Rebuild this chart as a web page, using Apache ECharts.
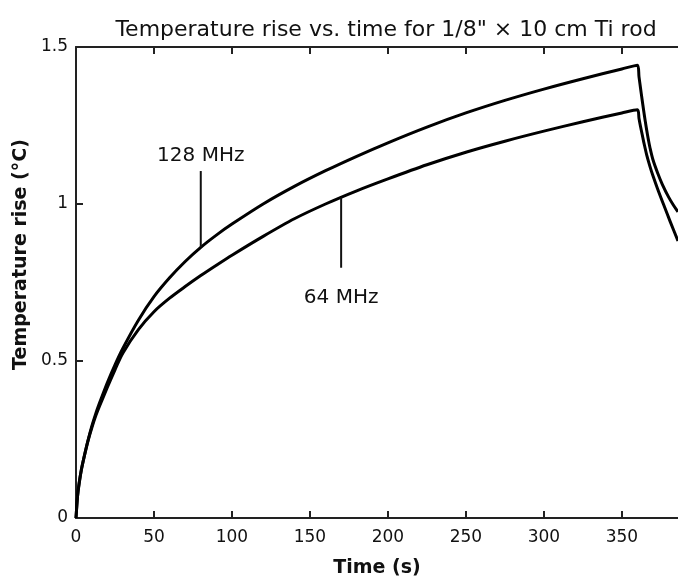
<!DOCTYPE html>
<html><head><meta charset="utf-8">
<script src="https://cdn.jsdelivr.net/npm/echarts@6/dist/echarts.min.js"></script>
<style>html,body{margin:0;padding:0;background:#fff}#c{width:678px;height:583px}</style>
</head><body><div id="c"></div>
<script>
const titleText = 'Temperature rise vs. time for 1/8" \u00d7 10 cm Ti rod';
const xAxisName = 'Time (s)';
const yAxisName = 'Temperature rise (\u00b0C)';

const time128 = [0, 1, 2, 3.5, 5, 7.5, 10, 12.5, 15, 20, 25, 30, 40, 50, 60, 70, 80, 90, 100, 120, 140, 160, 180, 200, 225, 250, 275, 300, 325, 350, 360, 361, 362, 363, 364, 365, 366, 367, 368, 370, 373, 376, 380, 383, 386];
const rise128 = [0, 0.07, 0.11, 0.155, 0.19, 0.243, 0.29, 0.33, 0.365, 0.43, 0.488, 0.54, 0.63, 0.705, 0.765, 0.817, 0.862, 0.901, 0.936, 1.0, 1.056, 1.106, 1.152, 1.195, 1.245, 1.29, 1.33, 1.366, 1.399, 1.43, 1.442, 1.405, 1.368, 1.332, 1.297, 1.264, 1.233, 1.205, 1.18, 1.14, 1.098, 1.062, 1.022, 0.997, 0.975];

const time64 = [0, 1, 2, 3.5, 5, 7.5, 10, 12.5, 15, 20, 25, 30, 40, 50, 60, 70, 80, 90, 100, 120, 140, 160, 180, 200, 225, 250, 275, 300, 325, 350, 360, 361, 362, 363, 364, 365, 366, 368, 370, 373, 377, 381, 386];
const rise64 = [0, 0.07, 0.11, 0.155, 0.19, 0.242, 0.285, 0.323, 0.355, 0.415, 0.472, 0.525, 0.6, 0.657, 0.7, 0.737, 0.772, 0.805, 0.837, 0.897, 0.953, 1.0, 1.042, 1.08, 1.125, 1.165, 1.2, 1.232, 1.262, 1.29, 1.3, 1.272, 1.246, 1.222, 1.198, 1.176, 1.155, 1.12, 1.089, 1.047, 0.995, 0.944, 0.882];

const xTicks = [0, 50, 100, 150, 200, 250, 300, 350];
const yTicks = [0, 0.5, 1, 1.5];

const annotationNames = ['128 MHz', '64 MHz'];
const annotationTime = [80, 170];
const annotationLineFrom = [0.862, 1.021];
const annotationLineTo = [1.105, 0.797];
const annotationLabelRise = [1.155, 0.702];

const FONT = 'DejaVu Sans';
const zip = (a, b) => a.map((v, i) => [v, b[i]]);

const axisLineStyle = { color: '#222', width: 2 };
const tickStyle = { color: '#222', width: 2 };
const baseX = {
  type: 'value', min: 0, max: 386, interval: 50,
  splitLine: { show: false },
  axisLine: { show: true, onZero: false, lineStyle: axisLineStyle },
  axisTick: { show: true, inside: true, length: 7, customValues: xTicks, lineStyle: tickStyle }
};
const baseY = {
  type: 'value', min: 0, max: 1.5, interval: 0.5,
  splitLine: { show: false },
  axisLine: { show: true, onZero: false, lineStyle: axisLineStyle },
  axisTick: { show: true, inside: true, length: 7, customValues: yTicks, lineStyle: tickStyle }
};

const annSeries = annotationNames.map((n, i) => ({
  type: 'line', xAxisIndex: 0, yAxisIndex: 0, silent: true, symbol: 'none',
  lineStyle: { color: '#111', width: 2 },
  data: [[annotationTime[i], annotationLineFrom[i]], [annotationTime[i], annotationLineTo[i]]]
}));

const chart = echarts.init(document.getElementById('c'), null, { renderer: 'canvas' });
chart.setOption({
  animation: false,
  backgroundColor: '#fff',
  title: {
    text: titleText, left: 381, top: 14, textAlign: 'center',
    textStyle: { fontFamily: FONT, fontSize: 22, fontWeight: 'normal', color: '#111' }
  },
  grid: { left: 76, right: 0, top: 47, bottom: 56, containLabel: false },
  xAxis: [
    Object.assign({}, baseX, {
      position: 'bottom',
      name: xAxisName, nameLocation: 'middle', nameGap: 41,
      nameTextStyle: { fontFamily: FONT, fontSize: 19, fontWeight: 'bold', color: '#111' },
      axisLabel: { show: true, margin: 11, fontFamily: FONT, fontSize: 17, color: '#111',
        customValues: xTicks, formatter: v => String(v) }
    }),
    Object.assign({}, baseX, { position: 'top', axisLabel: { show: false } })
  ],
  yAxis: [
    Object.assign({}, baseY, {
      position: 'left',
      name: yAxisName, nameLocation: 'middle', nameGap: 44,
      nameTextStyle: { fontFamily: FONT, fontSize: 19, fontWeight: 'bold', color: '#111', padding: [0, 0, 0, 56] },
      axisLabel: { show: true, margin: 8, fontFamily: FONT, fontSize: 17, color: '#111',
        customValues: yTicks, formatter: v => String(v) }
    }),
    Object.assign({}, baseY, { position: 'right', axisLine: { show: false }, axisTick: { show: false }, axisLabel: { show: false } })
  ],
  series: [
    { name: '128 MHz', type: 'line', symbol: 'none', smooth: 0.3,
      lineStyle: { color: '#000', width: 3, join: 'round' }, data: zip(time128, rise128) },
    { name: '64 MHz', type: 'line', symbol: 'none', smooth: 0.3,
      lineStyle: { color: '#000', width: 3, join: 'round' }, data: zip(time64, rise64) },
    ...annSeries,
    { type: 'scatter', symbolSize: 0, silent: true, itemStyle: { opacity: 1 },
      data: annotationNames.map((n, i) => ({ value: [annotationTime[i], annotationLabelRise[i]], name: n })),
      label: { show: true, position: 'inside', formatter: p => p.name, opacity: 1,
        fontFamily: FONT, fontSize: 20, color: '#111', textBorderWidth: 0 } }
  ]
});
</script></body></html>
